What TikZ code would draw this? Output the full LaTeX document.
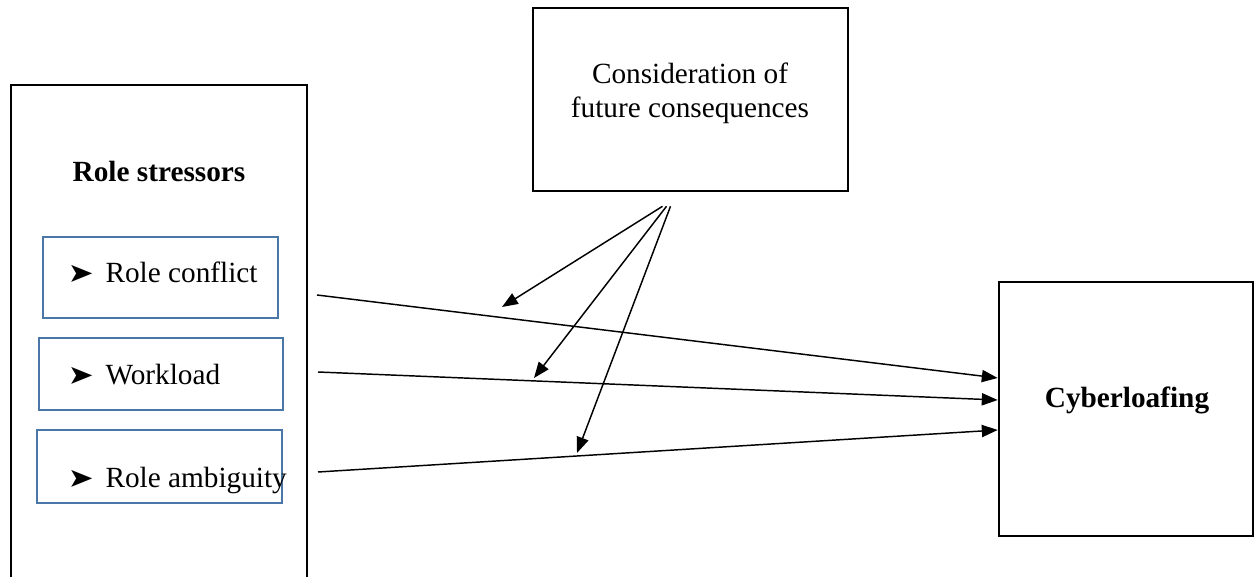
\documentclass[tikz,border=0pt]{standalone}
\usepackage{fontspec}
\setmainfont{Liberation Serif}
\usepackage{pifont}
\usepackage{tikz}
\usetikzlibrary{arrows.meta}
\usetikzlibrary{calc}
\definecolor{itemblue}{RGB}{74,118,168}
\newcommand{\itembullet}{\scalebox{0.85}{\ding{228}}\hspace{5pt}}

\begin{document}
\begin{tikzpicture}[x=0.0144cm, y=-0.0144cm,
  bigbox/.style={draw, line width=1.1pt, inner sep=0pt},
  itembox/.style={draw=itemblue, line width=1pt, inner sep=0pt},
  label/.style={inner sep=0pt, font=\fontsize{12}{13.9}\selectfont},
  link/.style={-{Triangle[length=6.5pt, width=5pt]}, line width=0.6pt}]
  \useasboundingbox (0,0) rectangle (1256,577);
  \clip (0,0) rectangle (1256,577);

  % Role stressors (left box)
  \node[bigbox, minimum width=4.262cm, minimum height=7.776cm] (stress) at (159,355) {};
  \node[label, font=\fontsize{12}{13.9}\selectfont\bfseries, anchor=base] (stresstitle) at (159,182) {Role stressors};

  \node[itembox, minimum width=3.384cm, minimum height=1.166cm] (conflict) at (160.5,277.5) {};
  \node[label, anchor=base west] (conflicttxt) at (70,283) {\itembullet Role conflict};

  \node[itembox, minimum width=3.514cm, minimum height=1.037cm] (workload) at (161,374) {};
  \node[label, anchor=base west] (workloadtxt) at (70,385) {\itembullet Workload};

  \node[itembox, minimum width=3.528cm, minimum height=1.051cm] (ambiguity) at (159.5,466.5) {};
  \node[label, anchor=base west] (ambiguitytxt) at (70,487) {\itembullet Role ambiguity};

  % Moderator (top box)
  \node[bigbox, minimum width=4.536cm, minimum height=2.635cm] (cfc) at (690.5,99.5) {};
  \node[label, align=center] (cfctxt) at (690,93) {Consideration of\\future consequences};

  % Outcome (right box)
  \node[bigbox, minimum width=3.658cm, minimum height=3.658cm] (cyber) at (1126,409) {};
  \node[label, font=\fontsize{12}{13.9}\selectfont\bfseries, anchor=base] (cybertxt) at (1127,408) {Cyberloafing};

  % Direct paths
  \coordinate (s1) at (317,295);
  \coordinate (s2) at (318,372);
  \coordinate (s3) at (318,472);
  \draw[link] (s1) -- ($(cyber.west)+(0,-31)$);
  \draw[link] (s2) -- ($(cyber.west)+(0,-9)$);
  \draw[link] (s3) -- ($(cyber.west)+(0,21)$);

  % Moderating paths
  \coordinate (m1) at ($(cfc.south)+(-28,14)$);
  \coordinate (m2) at ($(cfc.south)+(-24,14)$);
  \coordinate (m3) at ($(cfc.south)+(-20,14)$);
  \coordinate (t1) at (502,307);
  \coordinate (t2) at (534,378);
  \coordinate (t3) at (577,453);
  \draw[link] (m1) -- (t1);
  \draw[link] (m2) -- (t2);
  \draw[link] (m3) -- (t3);
\end{tikzpicture}
\end{document}
